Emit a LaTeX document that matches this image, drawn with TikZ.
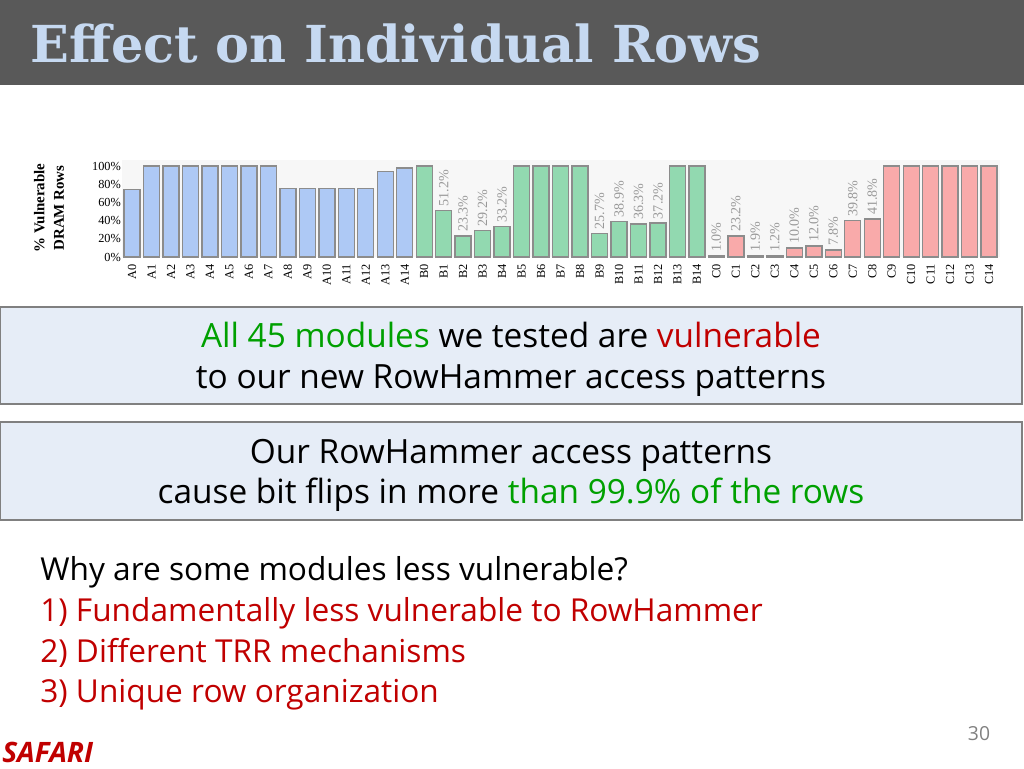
\documentclass[tikz,border=0pt]{standalone}
\usepackage{fontspec}
\setmainfont{Open Sans}
\newfontfamily\titlefont{DejaVu Serif}
\newfontfamily\chartfont{Liberation Serif}
\usetikzlibrary{positioning}
\definecolor{titlebg}{HTML}{595959}
\definecolor{titlefg}{HTML}{C6D9F1}
\definecolor{boxbg}{HTML}{E6EDF7}
\definecolor{barA}{HTML}{AEC9F5}
\definecolor{barB}{HTML}{92D9B0}
\definecolor{barC}{HTML}{F9AAAA}
\definecolor{darkred}{HTML}{C00000}
\definecolor{okgreen}{HTML}{00A000}
\tikzset{
  bar/.style={draw=black!45, line width=0.8pt},
  pct/.style={rotate=90, anchor=west, text=black!40, font=\chartfont\fontsize{8}{8}\selectfont, inner sep=1pt},
  tick/.style={anchor=east, font=\chartfont\fontsize{7}{7}\selectfont, inner sep=1pt},
  modname/.style={rotate=90, anchor=east, font=\chartfont\fontsize{7}{7}\selectfont, inner sep=1pt},
  msgbox/.style={draw=black!50, fill=boxbg, line width=1.2pt},
  bodytext/.style={font=\fontsize{19}{22}\selectfont, inner sep=0pt, anchor=base},
  listtext/.style={font=\fontsize{18}{22}\selectfont, inner sep=0pt, anchor=base west},
}
\begin{document}
\begin{tikzpicture}[x=0.02cm, y=-0.02cm]
  \useasboundingbox (0,0) rectangle (1024,768);
  % title bar
  \fill[titlebg] (0,0) rectangle (1024,85);
  \node (title) [anchor=base west, text=titlefg, font=\titlefont\bfseries\fontsize{29}{29}\selectfont, inner sep=0pt] at (30,62) {Effect on Individual Rows};

  % chart
  \fill[black!3] (122,160) rectangle (1000,257);
  \node (ylab) [rotate=90, align=center, font=\chartfont\bfseries\fontsize{8.5}{11}\selectfont] at (49,208) {\% Vulnerable\\DRAM Rows};
  \foreach \p in {0,20,...,100}
    \node (tick\p) [tick] at (123,257-0.91*\p) {\p\%};
  \foreach [count=\i from 0] \m/\v/\c/\l in {
    A0/74/barA/0, A1/100/barA/0, A2/100/barA/0, A3/100/barA/0, A4/100/barA/0,
    A5/100/barA/0, A6/100/barA/0, A7/100/barA/0, A8/75/barA/0, A9/75/barA/0,
    A10/75/barA/0, A11/75/barA/0, A12/75/barA/0, A13/94/barA/0, A14/98/barA/0,
    B0/100/barB/0, B1/51.2/barB/1, B2/23.3/barB/1, B3/29.2/barB/1, B4/33.2/barB/1,
    B5/100/barB/0, B6/100/barB/0, B7/100/barB/0, B8/100/barB/0, B9/25.7/barB/1,
    B10/38.9/barB/1, B11/36.3/barB/1, B12/37.2/barB/1, B13/100/barB/0, B14/100/barB/0,
    C0/1.0/barC/1, C1/23.2/barC/1, C2/1.9/barC/1, C3/1.2/barC/1, C4/10.0/barC/1,
    C5/12.0/barC/1, C6/7.8/barC/1, C7/39.8/barC/1, C8/41.8/barC/1, C9/100/barC/0,
    C10/100/barC/0, C11/100/barC/0, C12/100/barC/0, C13/100/barC/0, C14/100/barC/0} {
    \pgfmathsetmacro\xc{132+19.48*\i}
    \draw[bar, fill=\c] (\xc-8,257) rectangle (\xc+8,257-0.91*\v);
    \node (lab\m) [modname] at (\xc,262) {\m};
    \ifnum\l=1
      \node (pct\m) [pct] at (\xc,255-0.91*\v) {\v\%};
    \fi
  }

  % message boxes
  \draw[msgbox] (0,307) rectangle (1022,404);
  \node (msga) [bodytext] at (511,347) {\textcolor{okgreen}{All 45 modules} we tested are \textcolor{darkred}{vulnerable}};
  \node (msgb) [bodytext] at (511,388) {to our new RowHammer access patterns};
  \draw[msgbox] (0,422) rectangle (1022,520);
  \node (msgc) [bodytext] at (511,463) {Our RowHammer access patterns};
  \node (msgd) [bodytext] at (511,503) {cause bit flips in more \textcolor{okgreen}{than 99.9\% of the rows}};

  % list
  \node (q) [listtext] at (40,580) {Why are some modules less vulnerable?};
  \node (r1) [listtext, text=darkred] at (40,621) {1) Fundamentally less vulnerable to RowHammer};
  \node (r2) [listtext, text=darkred] at (40,662) {2) Different TRR mechanisms};
  \node (r3) [listtext, text=darkred] at (40,702) {3) Unique row organization};

  % footer
  \node (page) [text=black!50, font=\fontsize{11}{11}\selectfont] at (979,734) {30};
  \node (safari) [anchor=west, text=darkred, font=\bfseries\itshape\fontsize{16}{16}\selectfont, inner sep=0pt] at (2,752) {SAFARI};
\end{tikzpicture}
\end{document}
